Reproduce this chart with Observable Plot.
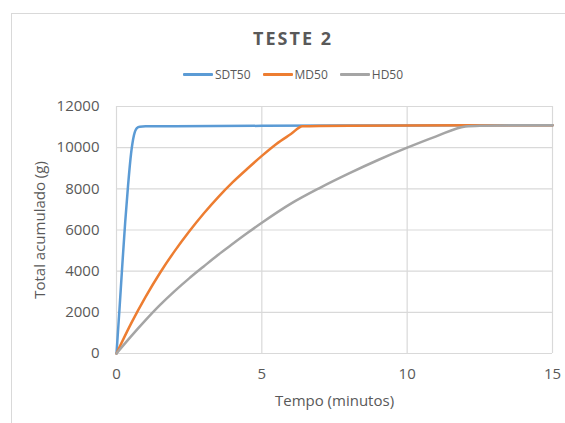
<!DOCTYPE html>
<html>
<head>
<meta charset="utf-8">
<script src="https://cdn.jsdelivr.net/npm/d3@7"></script>
<script src="https://cdn.jsdelivr.net/npm/@observablehq/plot@0.6"></script>
<style>
  html, body { margin: 0; padding: 0; background: #fff; }
  #chart { position: relative; width: 565px; height: 423px; overflow: hidden; font-family: "Open Sans", sans-serif; color: #595959; }
  #frame { position: absolute; left: 11px; top: 13px; width: 600px; height: 450px; border-top: 1.5px solid #d9d9d9; border-left: 1.5px solid #d9d9d9; }
  #title { position: absolute; left: 11px; width: 564px; top: 26px; text-align: center; font-size: 18px; font-weight: bold; letter-spacing: 2px; }
  #legend { position: absolute; left: 11px; width: 564px; top: 66px; display: flex; justify-content: center; gap: 12px; font-size: 12px; }
  .item { display: flex; align-items: center; gap: 2px; }
  .swatch { width: 30px; height: 3px; border-radius: 1px; }
  #plot { position: absolute; left: 0; top: 0; }
</style>
</head>
<body>
<div id="chart">
  <div id="frame"></div>
  <div id="title">TESTE 2</div>
  <div id="legend"></div>
  <div id="plot"></div>
</div>
<script>
// Series names and colours
const seriesNames = ["SDT50", "MD50", "HD50"];
const seriesColors = ["#5b9bd5", "#ed7d31", "#a5a5a5"];

// SDT50: time (min) and cumulative total (g)
const tSDT = [0, 0.1, 0.2, 0.3, 0.4, 0.5, 0.6, 0.7, 0.8, 1, 2, 5, 10, 15];
const vSDT = [0, 2100, 4300, 6400, 8200, 9700, 10600, 10950, 11020, 11035, 11045, 11060, 11080, 11090];

// MD50
const tMD = [0, 0.5, 1, 1.5, 2, 2.5, 3, 3.5, 4, 4.5, 5, 5.5, 6, 6.4, 7, 10, 15];
const vMD = [0, 1450, 2750, 3925, 4975, 5925, 6800, 7600, 8325, 8975, 9600, 10180, 10660, 11040, 11055, 11075, 11090];

// HD50
const tHD = [0, 0.5, 1, 1.5, 2, 2.5, 3, 3.5, 4, 4.5, 5, 6, 7, 8, 9, 10, 11, 12, 12.5, 13, 14, 15];
const vHD = [0, 830, 1620, 2360, 3030, 3650, 4230, 4800, 5330, 5850, 6350, 7280, 8050, 8750, 9400, 10000, 10550, 11030, 11070, 11080, 11085, 11090];

// Axis ticks and labels
const xTicks = [0, 5, 10, 15];
const yTicks = [0, 2000, 4000, 6000, 8000, 10000, 12000];
const xLabel = "Tempo (minutos)";
const yLabel = "Total acumulado (g)";

const seriesT = [tSDT, tMD, tHD];
const seriesV = [vSDT, vMD, vHD];
const rows = seriesNames.flatMap((name, i) =>
  seriesT[i].map((t, j) => ({series: name, t, v: seriesV[i][j]}))
);

// Legend
const legend = document.getElementById("legend");
seriesNames.forEach((name, i) => {
  const item = document.createElement("div");
  item.className = "item";
  item.innerHTML = `<span class="swatch" style="background:${seriesColors[i]}"></span><span>${name}</span>`;
  legend.appendChild(item);
});

const chart = Plot.plot({
  width: 565,
  height: 423,
  marginLeft: 116,
  marginRight: 13,
  marginTop: 106,
  marginBottom: 70,
  style: {fontFamily: "Open Sans, sans-serif", fontSize: "15px", color: "#595959", background: "transparent"},
  x: {domain: [0, 15]},
  y: {domain: [0, 12000]},
  color: {domain: seriesNames, range: seriesColors},
  marks: [
    Plot.gridX(xTicks, {stroke: "#d9d9d9", strokeOpacity: 1, strokeWidth: 1.2}),
    Plot.gridY(yTicks, {stroke: "#d9d9d9", strokeOpacity: 1, strokeWidth: 1.2}),
    Plot.axisX(xTicks, {tickSize: 0, tickPadding: 15, tickFormat: d3.format("d"), label: xLabel, labelAnchor: "center", labelArrow: "none", labelOffset: 52, fontSize: 15}),
    Plot.axisY(yTicks, {tickSize: 0, tickPadding: 17, tickFormat: d3.format("d"), label: yLabel, labelAnchor: "center", labelArrow: "none", labelOffset: 82, fontSize: 15}),
    Plot.line(rows, {x: "t", y: "v", z: "series", stroke: "series", strokeWidth: 2.5, curve: "monotone-x"})
  ]
});
document.getElementById("plot").appendChild(chart);
</script>
</body>
</html>
